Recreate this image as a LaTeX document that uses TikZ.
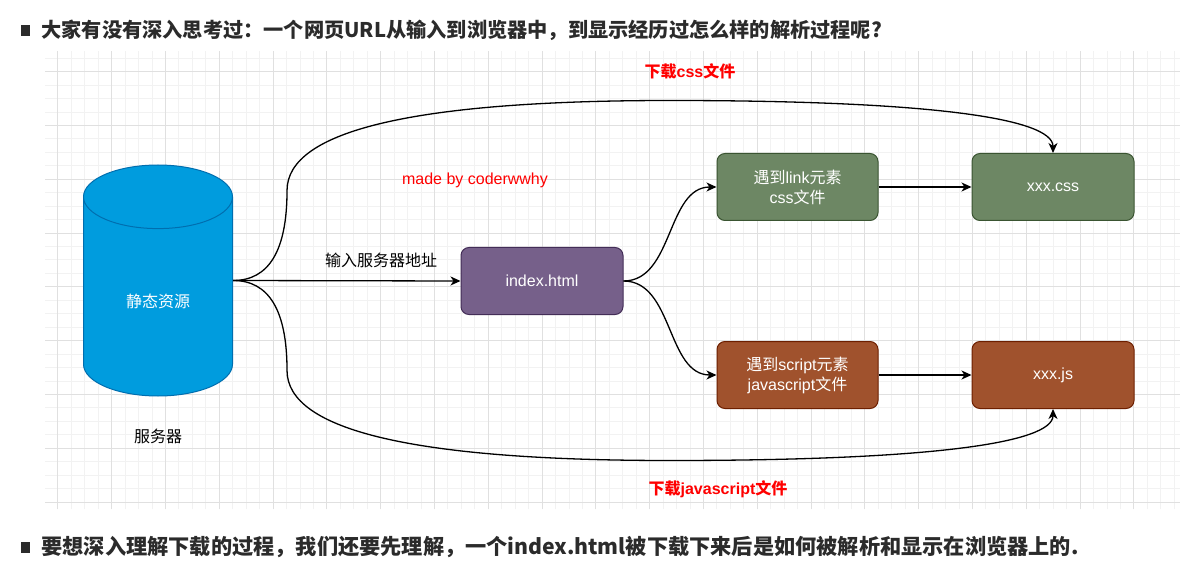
\documentclass[tikz,border=0pt]{standalone}
\usepackage{fontspec}
\setmainfont{Liberation Sans}
\newfontfamily\cjk{Noto Sans CJK SC}
\usetikzlibrary{shapes.geometric,arrows.meta,calc}

\definecolor{srvfill}{HTML}{009CDE}
\definecolor{srvline}{HTML}{006EAF}
\definecolor{htmlfill}{HTML}{76608A}
\definecolor{htmlline}{HTML}{432D57}
\definecolor{cssfill}{HTML}{6D8764}
\definecolor{cssline}{HTML}{3A5431}
\definecolor{jsfill}{HTML}{A0522D}
\definecolor{jsline}{HTML}{6D1F00}
\definecolor{headtext}{HTML}{2B2B2B}

\begin{document}
\begin{tikzpicture}[x=1pt,y=-1pt]
	\tikzstyle{grid_minor}=[draw=black!5, line width=1pt];
	\tikzstyle{grid_major}=[draw=black!12, line width=1pt];
	\tikzstyle{f_box}=[draw, rectangle, rounded corners=8pt, line width=1pt, text=white, align=center, font=\fontsize{16}{20}\selectfont];
	\tikzstyle{f_lbl}=[align=center, font=\fontsize{16}{20}\selectfont];
	\tikzstyle{f_red}=[text=red, font=\fontsize{16}{20}\selectfont\bfseries];
	\tikzstyle{f_head}=[text=headtext, anchor=west, font=\fontsize{20.2}{24}\selectfont\cjk\bfseries];
	\tikzstyle{f_bullet}=[fill=headtext, rectangle, inner sep=0pt, minimum width=9pt, minimum height=11pt];
	\tikzstyle{f_arr}=[line width=1.3pt, -{Stealth[length=10pt, width=9pt, inset=3pt]}];

	\useasboundingbox[fill=white] (0,0) rectangle (1201,577);

	% grid
	\begin{scope}[shift={(111.7,71.7)}]
		\draw[grid_minor, step=13.45pt] (-66.7,-20.7) grid (1068.3,437.3);
		\draw[grid_major, step=53.8pt] (-66.7,-20.7) grid (1068.3,437.3);
	\end{scope}

	% headings
	\node[f_bullet] (b_top) at (25.5,30.5) {};
	\node[f_head] (h_top) at (38,30) {大家有没有深入思考过：一个网页URL从输入到浏览器中，到显示经历过怎么样的解析过程呢?};
	\node[f_bullet] (b_bot) at (25.5,547) {};
	\node[f_head, font=\fontsize{21.2}{24}\selectfont\cjk\bfseries] (h_bot) at (38,547) {要想深入理解下载的过程，我们还要先理解，一个index.html被下载下来后是如何被解析和显示在浏览器上的.};

	% server
	\node[draw=srvline, fill=srvfill, line width=1pt, cylinder, shape border rotate=90, aspect=0.9, minimum width=149pt, minimum height=231pt, anchor=shape center, text=white, font=\fontsize{16}{20}\selectfont] (c_srv) at (158,280.5) {\cjk 静态资源};
	\node[f_lbl] (l_srv) at (158,436) {\cjk 服务器};
	\coordinate (c_out) at (c_srv.shape center -| c_srv.east);

	% files
	\node[f_box, draw=htmlline, fill=htmlfill, minimum width=162pt, minimum height=67pt] (n_html) at (542,281) {index.html};
	\node[f_box, draw=cssline, fill=cssfill, minimum width=161pt, minimum height=67pt] (n_link) at (797.5,187) {{\cjk 遇到}link{\cjk 元素}\\css{\cjk 文件}};
	\node[f_box, draw=jsline, fill=jsfill, minimum width=161pt, minimum height=67pt] (n_script) at (797.5,375) {{\cjk 遇到}script{\cjk 元素}\\javascript{\cjk 文件}};
	\node[f_box, draw=cssline, fill=cssfill, minimum width=162pt, minimum height=67pt] (n_css) at (1053,187) {xxx.css};
	\node[f_box, draw=jsline, fill=jsfill, minimum width=162pt, minimum height=67pt] (n_js) at (1053,375) {xxx.js};

	\node[f_lbl] (l_addr) at (381,260) {\cjk 输入服务器地址};
	\node[f_red] (l_dlcss) at (690,71) {{\cjk 下载}css{\cjk 文件}};
	\node[f_red] (l_dljs) at (718,489) {{\cjk 下载}javascript{\cjk 文件}};
	\node[f_lbl, text=red] (l_made) at (475,180) {made by coderwwhy};

	\draw[f_arr] (c_out) -- (n_html.west);
	\draw[f_arr] (c_out) .. controls +(36,0) and +(0,60) .. ++(54,-90) .. controls +(0,-60) and +(-255.3,0) .. ++(383,-90) .. controls +(255.3,0) and +(0,-35.3) .. (n_css.north);
	\draw[f_arr] (c_out) .. controls +(36,0) and +(0,-60) .. ++(54,90) .. controls +(0,60) and +(-255.3,0) .. ++(383,90) .. controls +(255.3,0) and +(0,34.7) .. (n_js.south);
	\draw[f_arr] (n_html.east) .. controls +(50,0) and +(-50,0) .. (n_link.west);
	\draw[f_arr] (n_html.east) .. controls +(50,0) and +(-50,0) .. (n_script.west);
	\draw[f_arr] (n_link) -- (n_css);
	\draw[f_arr] (n_script) -- (n_js);
\end{tikzpicture}
\end{document}
